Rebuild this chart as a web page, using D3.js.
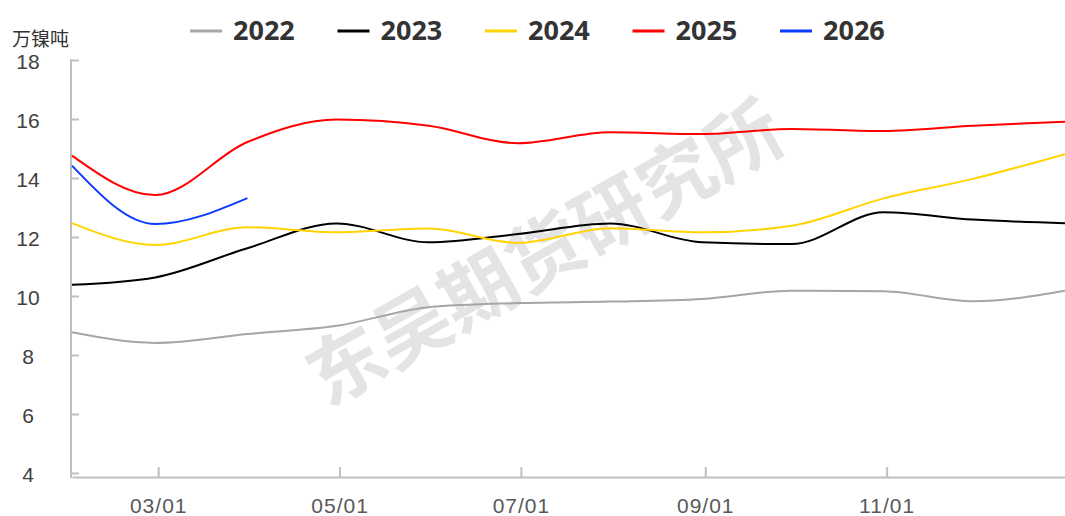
<!DOCTYPE html>
<html>
<head>
<meta charset="utf-8">
<script src="https://cdn.jsdelivr.net/npm/d3@7"></script>
<style>
  html, body { margin: 0; padding: 0; background: #fff; }
  svg { display: block; font-family: "Noto Sans", "Noto Sans CJK SC", sans-serif; }
</style>
</head>
<body>
<svg width="1065" height="516"></svg>
<script>
// month-end observations, plotted on a common (non-leap) year
const months = ["01-31","02-28","03-31","04-30","05-31","06-30","07-31","08-31","09-30","10-31","11-30","12-31"];
const years = ["2022","2023","2024","2025","2026"];
const colors = ["#a6a6a6","#000000","#ffd400","#ff0000","#0b3bff"];

const v2022 = [8.77, 8.41, 8.71, 8.99, 9.62, 9.76, 9.81, 9.90, 10.18, 10.16, 9.82, 10.18];
const v2023 = [10.38, 10.63, 11.62, 12.46, 11.82, 12.10, 12.46, 11.82, 11.76, 12.84, 12.59, 12.47];
const v2024 = [12.47, 11.73, 12.33, 12.16, 12.29, 11.80, 12.30, 12.16, 12.38, 13.31, 13.97, 14.81];
const v2025 = [14.76, 13.42, 15.22, 15.98, 15.77, 15.18, 15.55, 15.49, 15.66, 15.59, 15.77, 15.91];
const v2026 = [14.42, 12.44, 13.32];

const yTicks = [4, 6, 8, 10, 12, 14, 16, 18];
const xTicks = ["03-01","05-01","07-01","09-01","11-01"];
const unit = "万镍吨";
const watermark = "东吴期货研究所";

const parse = d3.timeParse("%Y-%m-%d");
const day = s => parse("2023-" + s);

const series = [v2022, v2023, v2024, v2025, v2026].map((vals, i) => ({
  name: years[i],
  color: colors[i],
  points: vals.map((v, j) => ({date: day(months[j]), value: v}))
}));

const svg = d3.select("svg");
const axisY = 477;

const x = d3.scaleTime()
  .domain([day(months[0]), day(months[months.length - 1])])
  .range([72, 1065]);

const y = d3.scaleLinear()
  .domain([4, 18])
  .range([473, 60]);

// watermark
svg.append("text")
  .attr("transform", "translate(542,248) rotate(-29.5)")
  .attr("text-anchor", "middle")
  .attr("dominant-baseline", "central")
  .style("font-family", "'Noto Sans CJK SC', sans-serif")
  .style("font-size", "76px")
  .style("font-weight", "700")
  .attr("fill", "#e4e4e7")
  .text(watermark);

// y axis
const gy = svg.append("g")
  .attr("transform", "translate(71,0)")
  .call(d3.axisLeft(y).tickValues(yTicks).tickSize(-8).tickSizeOuter(0));
gy.select(".domain").remove();
gy.selectAll(".tick line").attr("stroke", "#bfbfbf").attr("stroke-width", 2);
gy.selectAll(".tick text")
  .attr("x", -43)
  .attr("dy", "0.42em")
  .attr("text-anchor", "middle")
  .attr("fill", "#404040")
  .style("font-size", "21px");
gy.append("line")
  .attr("x1", 0).attr("x2", 0)
  .attr("y1", y(18) - 1).attr("y2", axisY + 1)
  .attr("stroke", "#bfbfbf").attr("stroke-width", 2);

// x axis
const gx = svg.append("g")
  .attr("transform", `translate(0,${axisY})`)
  .call(d3.axisBottom(x)
    .tickValues(xTicks.map(day))
    .tickFormat(d3.timeFormat("%m/%d"))
    .tickSize(-10)
    .tickSizeOuter(0));
gx.select(".domain").attr("stroke", "#bfbfbf").attr("stroke-width", 2);
gx.selectAll(".tick line").attr("stroke", "#bfbfbf").attr("stroke-width", 2);
gx.selectAll(".tick text")
  .attr("y", 36)
  .attr("dy", 0)
  .attr("fill", "#595959")
  .style("letter-spacing", "1px")
  .style("font-size", "21px");

// unit label
svg.append("text")
  .attr("x", 12).attr("y", 46)
  .style("font-family", "'Noto Sans CJK SC', sans-serif")
  .style("font-size", "19px")
  .attr("fill", "#333")
  .text(unit);

// lines
const line = d3.line()
  .x(d => x(d.date))
  .y(d => y(d.value))
  .curve(d3.curveMonotoneX);

svg.append("g")
  .selectAll("path")
  .data(series)
  .join("path")
  .attr("fill", "none")
  .attr("stroke", d => d.color)
  .attr("stroke-width", 2)
  .attr("d", d => line(d.points));

// legend
const legend = svg.append("g")
  .selectAll("g")
  .data(series)
  .join("g")
  .attr("transform", (d, i) => `translate(${190 + i * 147.5},0)`);

legend.append("line")
  .attr("x1", 0).attr("x2", 32)
  .attr("y1", 31).attr("y2", 31)
  .attr("stroke", d => d.color)
  .attr("stroke-width", 3);

legend.append("text")
  .attr("x", 43).attr("y", 40)
  .style("font-size", "27px")
  .style("font-weight", "700")
  .attr("fill", "#333")
  .text(d => d.name);
</script>
</body>
</html>
